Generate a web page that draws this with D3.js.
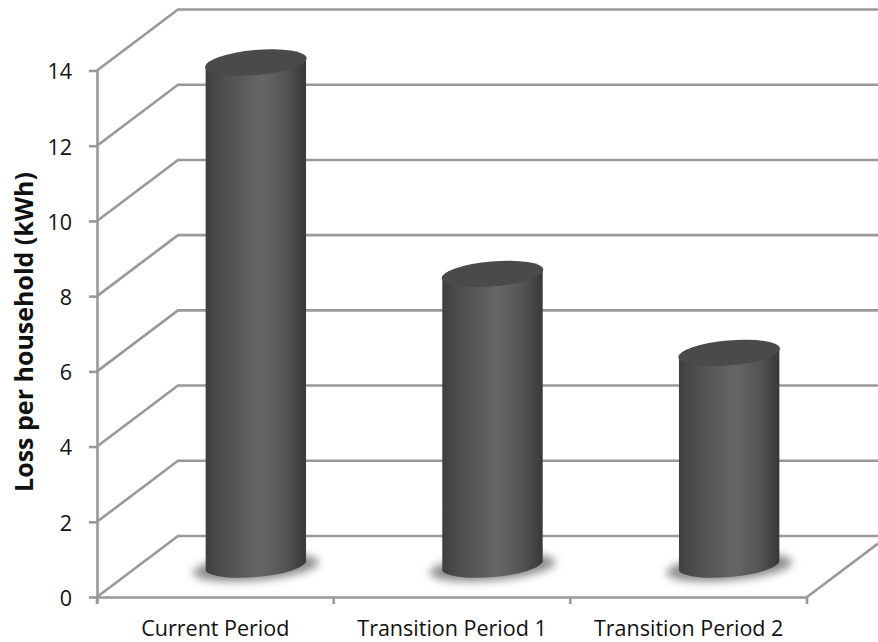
<!DOCTYPE html>
<html><head><meta charset="utf-8">
<script src="https://cdn.jsdelivr.net/npm/d3@7"></script>
<style>html,body{margin:0;padding:0;background:#fff}svg{display:block}text{font-family:"Open Sans",sans-serif;fill:#111}</style>
</head><body><svg id="c" width="878" height="642"></svg>
<script>
const categories = ["Current Period","Transition Period 1","Transition Period 2"];
const lossValues = [13.4,7.78,5.68];
const yTicks = [0,2,4,6,8,10,12,14];
const yTitle = "Loss per household (kWh)";

const svg = d3.select("#c");
const W=878, plotL=97, plotR=807, plotB=597, plotT=70.5, dx=81, dy=61;
const yS = d3.scaleLinear().domain([0,14]).range([plotB,plotT]);
const xS = d3.scaleBand().domain(categories).range([plotL,plotR]);
const grid="#999";

const defs = svg.append("defs");
const grad = defs.append("linearGradient").attr("id","cyl").attr("x1",0).attr("x2",1).attr("y1",0).attr("y2",0);
[[0,"#3e3e3e"],[.12,"#4a4a4a"],[.55,"#666666"],[.8,"#545454"],[1,"#383838"]].forEach(s=>grad.append("stop").attr("offset",s[0]).attr("stop-color",s[1]));
defs.append("filter").attr("id","blur").attr("x","-30%").attr("y","-60%").attr("width","160%").attr("height","220%")
  .append("feGaussianBlur").attr("stdDeviation",4);

// back wall and side wall gridlines
const g = svg.append("g").attr("fill","none").attr("stroke",grid).attr("stroke-width",2.6);
g.selectAll("path.gl").data(yTicks).join("path").attr("class","gl")
  .attr("d",t=>d3.line()([[plotL,yS(t)],[plotL+dx,yS(t)-dy],[W,yS(t)-dy]]));
// floor right edge
g.append("path").attr("d",d3.line()([[plotR,plotB],[W,plotB-(W-plotR)*dy/dx]]));

// bars
const rx=51, ry=12.5, tilt=-5, tx=50.2, ty=4.4;
const mid = dy/2;
const bars = svg.append("g").selectAll("g").data(categories.map((c,i)=>({c,v:lossValues[i]}))).join("g")
  .attr("transform",d=>`translate(${xS(d.c)+xS.bandwidth()/2+dx/2},0)`);
const baseY = yS(0)-mid;
bars.append("ellipse").attr("cx",0).attr("cy",baseY+1).attr("rx",63).attr("ry",13)
  .attr("transform",`rotate(${tilt} 0 ${baseY})`).attr("fill","#8c8c8c").attr("filter","url(#blur)");
bars.append("path").attr("fill","url(#cyl)")
  .attr("d",d=>{const t=yS(d.v)-mid;
    return `M${-tx},${t+ty}L${-tx},${baseY+ty}A${rx},${ry} ${tilt} 0 0 ${tx},${baseY-ty}L${tx},${t-ty}A${rx},${ry} ${tilt} 0 1 ${-tx},${t+ty}Z`;});
bars.append("ellipse").attr("cx",0).attr("cy",d=>yS(d.v)-mid).attr("rx",rx).attr("ry",ry)
  .attr("transform",d=>`rotate(${tilt} 0 ${yS(d.v)-mid})`).attr("fill","#4a4a4a");

// axes
const yAxis = svg.append("g").attr("transform",`translate(${plotL},0)`)
  .call(d3.axisLeft(yS).tickValues(yTicks).tickSize(8).tickPadding(17).tickFormat(d3.format("d")));
yAxis.selectAll("text").style("font-size","21.5px").attr("dy","0.39em");
const bx = svg.append("g").attr("transform",`translate(0,${plotB})`)
  .call(d3.axisBottom(xS).tickSize(0).tickPadding(24));
bx.selectAll("text").style("font-size","21.5px");
const boundaries = categories.map(c=>xS(c)).concat([plotR]);
svg.append("g").selectAll("line").data(boundaries).join("line")
  .attr("x1",d=>d).attr("x2",d=>d).attr("y1",plotB).attr("y2",plotB+7);
svg.selectAll("line").attr("stroke",grid).attr("stroke-width",2.6);
svg.selectAll(".domain").attr("stroke",grid).attr("stroke-width",2.6);
bx.select(".domain").attr("d",`M${plotL},0.5H${plotR}`);
yAxis.select(".domain").attr("d",`M0.5,${plotT}V${plotB+6}`);

svg.append("text").attr("transform",`translate(33,332) rotate(-90)`).attr("text-anchor","middle")
  .style("font-size","25px").style("font-weight","700").text(yTitle);
</script></body></html>
